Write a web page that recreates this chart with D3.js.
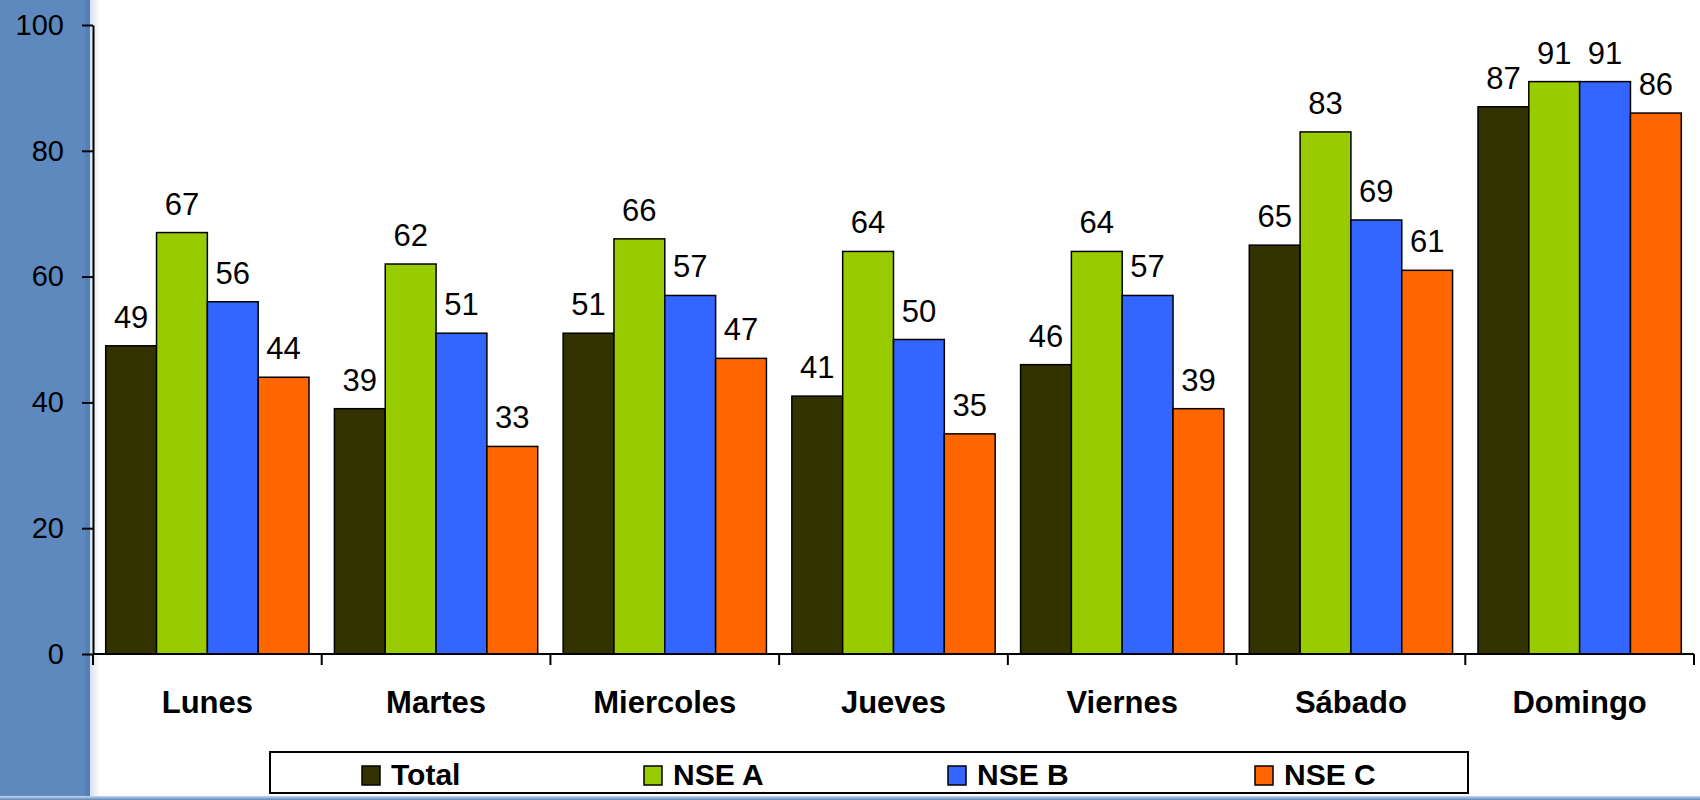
<!DOCTYPE html>
<html>
<head>
<meta charset="utf-8">
<script src="https://cdn.jsdelivr.net/npm/d3@7"></script>
<style>
  html, body { margin: 0; padding: 0; background: #fff; }
  svg { display: block; font-family: "Liberation Sans", Arial, sans-serif; }
</style>
</head>
<body>
<div id="chart"></div>
<script>
// ---- data ----
var days = ["Lunes", "Martes", "Miercoles", "Jueves", "Viernes", "Sábado", "Domingo"];
var seriesNames = ["Total", "NSE A", "NSE B", "NSE C"];
var total = [49, 39, 51, 41, 46, 65, 87];
var nseA  = [67, 62, 66, 64, 64, 83, 91];
var nseB  = [56, 51, 57, 50, 57, 69, 91];
var nseC  = [44, 33, 47, 35, 39, 61, 86];
var yTicks = [0, 20, 40, 60, 80, 100];

var seriesValues = [total, nseA, nseB, nseC];
var colors = ["#333300", "#99CC00", "#3366FF", "#FF6600"];

var W = 1700, H = 800;
var plot = {left: 93, right: 1694, top: 25, bottom: 654};

var svg = d3.select("#chart").append("svg")
    .attr("width", W)
    .attr("height", H);

// background: blue strip on the left and a thin band at the bottom
var defs = svg.append("defs");
var g1 = defs.append("linearGradient").attr("id", "fade").attr("x1", 0).attr("x2", 1);
g1.append("stop").attr("offset", 0).attr("stop-color", "#5a86bc");
g1.append("stop").attr("offset", 1).attr("stop-color", "#ffffff");
var g2 = defs.append("linearGradient").attr("id", "band").attr("x1", 0).attr("x2", 0).attr("y1", 0).attr("y2", 1);
g2.append("stop").attr("offset", 0).attr("stop-color", "#c9d8ec");
g2.append("stop").attr("offset", 1).attr("stop-color", "#5f88bd");

svg.append("rect").attr("x", 0).attr("y", 0).attr("width", W).attr("height", H).attr("fill", "#ffffff");
svg.append("rect").attr("x", 0).attr("y", 0).attr("width", 89).attr("height", H).attr("fill", "#5d89bf");
svg.append("rect").attr("x", 85).attr("y", 0).attr("width", 5).attr("height", H).attr("fill", "#5680b5");
svg.append("rect").attr("x", 90).attr("y", 0).attr("width", 10).attr("height", H).attr("fill", "url(#fade)").attr("opacity", 0.25);
svg.append("rect").attr("x", 0).attr("y", 796).attr("width", W).attr("height", 4).attr("fill", "url(#band)");

// scales
var x0 = d3.scaleBand()
    .domain(days)
    .range([plot.left, plot.right])
    .padding(0);

var x1 = d3.scaleBand()
    .domain(seriesNames)
    .range([0, x0.bandwidth()])
    .paddingInner(0)
    .paddingOuter(0.25);

var y = d3.scaleLinear()
    .domain([0, 100])
    .range([plot.bottom, plot.top]);

// bars
var groups = svg.append("g").selectAll("g")
    .data(days)
    .enter().append("g")
    .attr("transform", function(d) { return "translate(" + x0(d) + ",0)"; });

groups.selectAll("rect")
    .data(function(d, i) {
        return seriesNames.map(function(s, k) { return {s: s, k: k, v: seriesValues[k][i]}; });
    })
    .enter().append("rect")
    .attr("x", function(d) { return x1(d.s); })
    .attr("y", function(d) { return y(d.v); })
    .attr("width", x1.bandwidth())
    .attr("height", function(d) { return y(0) - y(d.v); })
    .attr("fill", function(d) { return colors[d.k]; })
    .attr("stroke", "#000")
    .attr("stroke-width", 1.5);

// value labels
groups.selectAll("text")
    .data(function(d, i) {
        return seriesNames.map(function(s, k) { return {s: s, k: k, v: seriesValues[k][i]}; });
    })
    .enter().append("text")
    .attr("x", function(d) { return x1(d.s) + x1.bandwidth() / 2; })
    .attr("y", function(d) { return y(d.v) - 18; })
    .attr("text-anchor", "middle")
    .attr("font-size", "31px")
    .attr("fill", "#000")
    .text(function(d) { return d.v; });

// y axis
var yAxis = svg.append("g")
    .attr("transform", "translate(" + plot.left + ",0)")
    .call(d3.axisLeft(y).tickValues(yTicks).tickSize(11).tickPadding(18).tickSizeOuter(0));
yAxis.select(".domain").attr("stroke", "#000").attr("stroke-width", 2);
yAxis.selectAll(".tick line").attr("stroke", "#000").attr("stroke-width", 2);
yAxis.selectAll(".tick text")
    .attr("font-size", "29px")
    .attr("font-family", "Liberation Sans, Arial, sans-serif")
    .attr("fill", "#000");

// x axis: line + ticks at category boundaries
var xAxis = svg.append("g");
xAxis.append("line")
    .attr("x1", plot.left).attr("x2", plot.right)
    .attr("y1", y(0)).attr("y2", y(0))
    .attr("stroke", "#000").attr("stroke-width", 2);
var bounds = days.map(function(d) { return x0(d); }).concat([plot.right]);
xAxis.selectAll("line.b")
    .data(bounds)
    .enter().append("line")
    .attr("class", "b")
    .attr("x1", function(d) { return d; }).attr("x2", function(d) { return d; })
    .attr("y1", y(0)).attr("y2", y(0) + 11)
    .attr("stroke", "#000").attr("stroke-width", 2);
xAxis.selectAll("text")
    .data(days)
    .enter().append("text")
    .attr("x", function(d) { return x0(d) + x0.bandwidth() / 2; })
    .attr("y", 713)
    .attr("text-anchor", "middle")
    .attr("font-size", "31px")
    .attr("font-weight", "bold")
    .attr("fill", "#000")
    .text(function(d) { return d; });

// legend
var legendX = [362, 644, 948, 1255];
var legend = svg.append("g");
legend.append("rect")
    .attr("x", 270).attr("y", 752)
    .attr("width", 1198).attr("height", 41)
    .attr("fill", "#fff")
    .attr("stroke", "#000").attr("stroke-width", 2);
var items = legend.selectAll("g.item")
    .data(seriesNames)
    .enter().append("g")
    .attr("class", "item")
    .attr("transform", function(d, i) { return "translate(" + legendX[i] + ",0)"; });
items.append("rect")
    .attr("x", 0).attr("y", 766)
    .attr("width", 18).attr("height", 19)
    .attr("fill", function(d, i) { return colors[i]; })
    .attr("stroke", "#000").attr("stroke-width", 1.5);
items.append("text")
    .attr("x", 29).attr("y", 785)
    .attr("font-size", "30px")
    .attr("font-weight", "bold")
    .attr("fill", "#000")
    .text(function(d) { return d; });
</script>
</body>
</html>
